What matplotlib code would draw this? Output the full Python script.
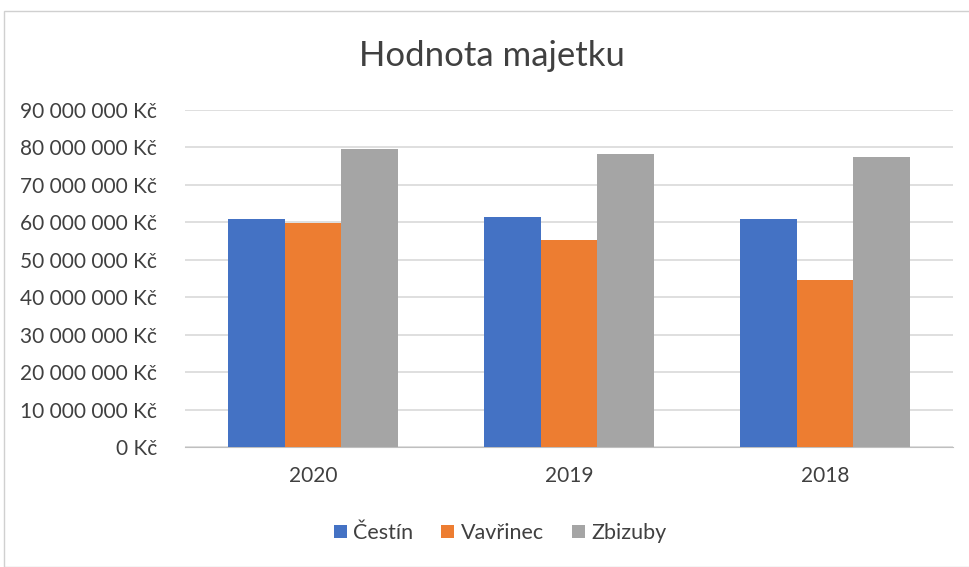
import matplotlib.pyplot as plt
import numpy as np
from matplotlib.patches import Rectangle
from matplotlib.ticker import FuncFormatter

years = ['2020', '2019', '2018']
series = ['Čestín', 'Vavřinec', 'Zbizuby']
cestin = [61.0e6, 61.3e6, 61.0e6]
vavrinec = [59.7e6, 55.4e6, 44.5e6]
zbizuby = [79.7e6, 78.3e6, 77.4e6]
colors = ['#4472c4', '#ed7d31', '#a5a5a5']

plt.rcParams['font.family'] = ['Lato', 'DejaVu Sans']
txt = '#404040'

fig = plt.figure(figsize=(9.69, 5.67), dpi=100)
fig.patches.append(Rectangle((4 / 969, 0), 1, 1 - 11 / 567, transform=fig.transFigure,
                             fill=False, edgecolor='#d0d0d0', linewidth=1))
ax = fig.add_axes([185 / 969, 1 - 447 / 567, 768 / 969, 337 / 567])

x = np.arange(len(years))
w = 0.222
for i, (vals, name) in enumerate(zip([cestin, vavrinec, zbizuby], series)):
    ax.bar(x + (i - 1) * w, vals, width=w, color=colors[i], label=name, zorder=3)

ax.set_xlim(-0.5, 2.5)
ax.set_ylim(0, 90e6)
ax.set_yticks(np.arange(0, 90e6 + 1, 10e6))
ax.yaxis.set_major_formatter(FuncFormatter(
    lambda v, p: '0 Kč' if v == 0 else '{:,.0f} Kč'.format(v).replace(',', ' ')))
ax.set_xticks(x)
ax.set_xticklabels(years)
ax.grid(axis='y', color='#d9d9d9', linewidth=1.2, zorder=0)
for s in ['top', 'right', 'left']:
    ax.spines[s].set_visible(False)
ax.spines['bottom'].set_color('#bfbfbf')
ax.tick_params(axis='both', length=0, labelsize=15, colors=txt)
ax.tick_params(axis='y', pad=20)
ax.tick_params(axis='x', pad=14)

fig.text(492 / 969, 1 - 56 / 567, 'Hodnota majetku', ha='center', va='center',
         fontsize=25, color=txt)

fig.legend(loc='center', bbox_to_anchor=(500 / 969, 1 - 533 / 567), ncol=3,
           frameon=False, fontsize=15.5, handlelength=0.6, handleheight=0.6,
           handletextpad=0.3, columnspacing=1.3, labelcolor=txt)

fig.savefig('out.png', dpi=100)
